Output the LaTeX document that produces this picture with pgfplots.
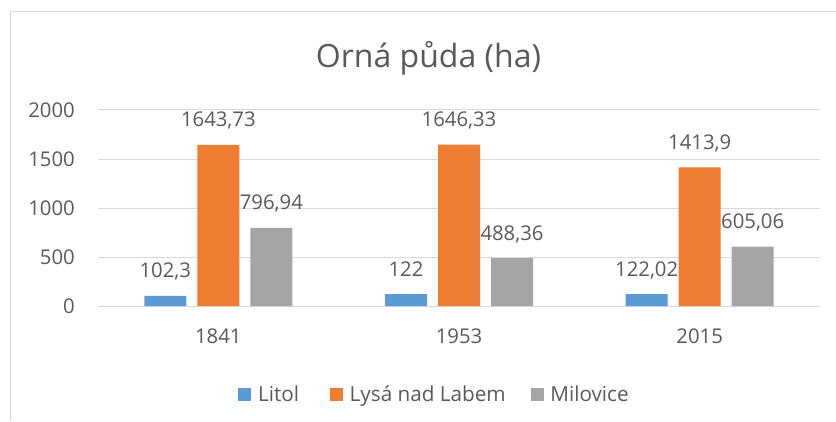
\documentclass[border=0pt]{standalone}
\usepackage{fontspec}
\setmainfont{Open Sans}
\usepackage{pgfplots}
\pgfplotsset{compat=1.18}
\definecolor{cBlue}{HTML}{5B9BD5}
\definecolor{cOrange}{HTML}{ED7D31}
\definecolor{cGray}{HTML}{A5A5A5}
\definecolor{txtGray}{HTML}{595959}
\definecolor{gridGray}{HTML}{D9D9D9}
\begin{document}
\begin{tikzpicture}[x=1bp,y=1bp]
\useasboundingbox (0,0) rectangle (836,421);
\draw[gridGray, line width=1bp] (10,0) -- (10,409.5) -- (836,409.5);
\node[font=\fontsize{32bp}{38bp}\selectfont, text=txtGray, anchor=base, inner sep=0pt] at (428.5,354) {Orná půda (ha)};
\begin{axis}[
  at={(98bp,115bp)}, anchor=south west,
  scale only axis, width=722bp, height=196bp,
  xmin=-0.5, xmax=2.5, ymin=0, ymax=2000,
  ytick={0,500,1000,1500,2000},
  xtick={0,1,2}, xticklabels={1841,1953,2015},
  axis line style={draw=none},
  major tick length=0pt,
  ymajorgrids, grid style={gridGray, line width=1bp},
  ybar=11bp, bar width=42bp,
  /pgf/number format/assume math mode=true,
  /pgf/number format/1000 sep={},
  tick label style={font=\fontsize{20.3bp}{24bp}\selectfont, text=txtGray, inner sep=0pt},
  yticklabel style={anchor=east, xshift=-23bp},
  xticklabel style={anchor=north, yshift=-23bp},
  point meta=explicit symbolic,
  nodes near coords,
  nodes near coords style={anchor=base, yshift=18bp, inner sep=0pt, font=\fontsize{20.3bp}{24bp}\selectfont, text=txtGray},
  legend columns=3,
  legend style={at={(0.1943,-0.4939)}, anchor=south west, draw=none, fill=none, inner sep=0pt,
    font=\fontsize{20.7bp}{24bp}\selectfont, text=txtGray,
    cells={anchor=base west}, nodes={inner sep=0pt},
    /tikz/every odd column/.append style={column sep=6.6bp},
    /tikz/column 2/.append style={column sep=31bp},
    /tikz/column 4/.append style={column sep=25bp}},
  legend image code/.code={\fill[#1] (0bp,0bp) rectangle (13bp,13bp);},
  clip=false,
]
\addplot[fill=cBlue, draw=none] coordinates {(0,102.3) [102,3] (1,122) [122] (2,122.02) [122,02]};
\addplot[fill=cOrange, draw=none] coordinates {(0,1643.73) [1643,73] (1,1646.33) [1646,33] (2,1413.9) [1413,9]};
\addplot[fill=cGray, draw=none] coordinates {(0,796.94) [796,94] (1,488.36) [488,36] (2,605.06) [605,06]};
\legend{Litol, Lysá nad Labem, Milovice}
\end{axis}
\end{tikzpicture}
\end{document}
